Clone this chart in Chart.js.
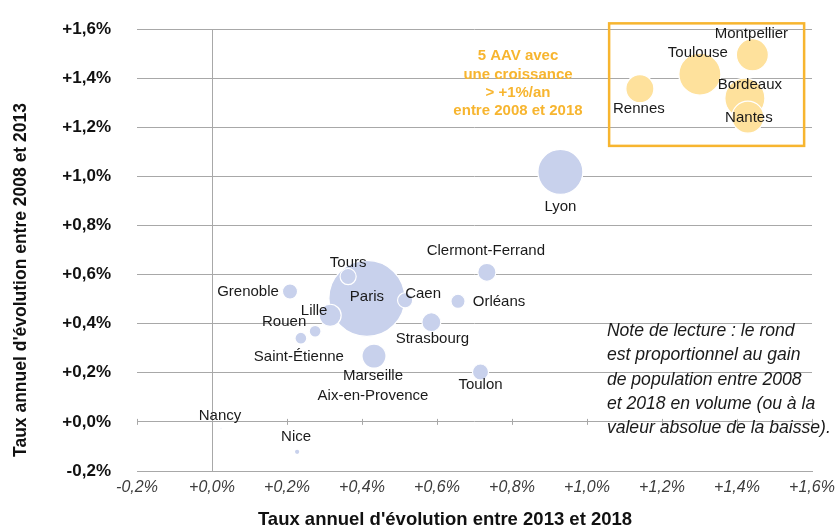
<!DOCTYPE html>
<html>
<head>
<meta charset="utf-8">
<script src="https://cdn.jsdelivr.net/npm/chart.js@4.4.1/dist/chart.umd.min.js"></script>
<style>
  html, body { margin: 0; padding: 0; background: #fff; }
  #wrap { width: 836px; height: 531px; }
</style>
</head>
<body>
<div id="wrap"><canvas id="chart" width="836" height="531"></canvas></div>
<script>
// Aires d'attraction des villes (AAV)
const cities = ['Paris', 'Lyon', 'Toulouse', 'Bordeaux', 'Montpellier', 'Nantes', 'Rennes',
  'Marseille\nAix-en-Provence', 'Lille', 'Strasbourg', 'Clermont-Ferrand', 'Tours', 'Toulon',
  'Grenoble', 'Caen', 'Orléans', 'Rouen', 'Saint-Étienne', 'Nice', 'Nancy'];
// taux annuel d'évolution 2013-2018 (%)
const rate2013_2018 = [0.413, 0.929, 1.301, 1.421, 1.441, 1.429, 1.141,
  0.432, 0.315, 0.585, 0.733, 0.363, 0.716,
  0.208, 0.515, 0.656, 0.275, 0.237, 0.227, 0.024];
// taux annuel d'évolution 2008-2013 (%)
const rate2008_2013 = [0.503, 1.018, 1.416, 1.318, 1.495, 1.241, 1.357,
  0.268, 0.434, 0.406, 0.609, 0.592, 0.203,
  0.531, 0.495, 0.491, 0.369, 0.341, -0.122, -0.028];
// gain de population 2008-2018 (milliers, valeur absolue)
const popGain = [580, 203, 177, 161, 103, 103, 79,
  58, 49, 36, 33, 26, 26,
  23, 23, 20, 14, 14, 3, 0.4];
// AAV avec une croissance > +1%/an entre 2008 et 2018
const fastGrowth = ['Toulouse', 'Bordeaux', 'Montpellier', 'Nantes', 'Rennes'];

const xTicks = [-0.2, 0, 0.2, 0.4, 0.6, 0.8, 1.0, 1.2, 1.4, 1.6];
const yTicks = [-0.2, 0, 0.2, 0.4, 0.6, 0.8, 1.0, 1.2, 1.4, 1.6];

const FONT = "'Liberation Sans', Arial, Helvetica, sans-serif";
const BLUE = '#c8d1ec';
const ORANGE = '#fee19c';
const GOLD = '#f7b52f';
const GRID = '#a8a8a8';

// label offsets (px) from bubble centre
const labelPos = {
  'Paris': [0, -2], 'Lyon': [0, 35], 'Toulouse': [-2, -21], 'Bordeaux': [5, -13],
  'Montpellier': [-1, -21], 'Nantes': [1, 1], 'Rennes': [-1, 20],
  'Marseille\nAix-en-Provence': [-1, 30], 'Lille': [-16, -4], 'Strasbourg': [1, 17],
  'Clermont-Ferrand': [-1, -21], 'Tours': [0, -14], 'Toulon': [0, 13],
  'Grenoble': [-42, 0], 'Caen': [18, -6], 'Orléans': [41, 1], 'Rouen': [-31, -9],
  'Saint-Étienne': [-2, 19], 'Nice': [-1, -15], 'Nancy': [-1, -13]
};

const fmt = v => (v < -1e-9 ? '-' : '+') + Math.abs(v).toFixed(1).replace('.', ',') + '%';

function buildPoints(fast) {
  const idx = cities.map((c, i) => i)
    .filter(i => fastGrowth.includes(cities[i]) === fast)
    .sort((a, b) => popGain[b] - popGain[a]);
  return idx.map(i => ({
    x: rate2013_2018[i],
    y: rate2008_2013[i],
    r: Math.max(1, Math.sqrt(popGain[i]) * 1.578),
    name: cities[i]
  }));
}

const decorPlugin = {
  id: 'decor',
  beforeDatasetsDraw(chart) {
    // small tick marks along the zero line
    const ctx = chart.ctx;
    const xs = chart.scales.x, ys = chart.scales.y;
    const y0 = ys.getPixelForValue(0);
    ctx.save();
    ctx.strokeStyle = GRID;
    ctx.lineWidth = 1;
    ctx.beginPath();
    xTicks.forEach(v => {
      const px = Math.round(xs.getPixelForValue(v)) + 0.5;
      ctx.moveTo(px, y0 - 3);
      ctx.lineTo(px, y0 + 3);
    });
    ctx.stroke();
    ctx.restore();
  },
  afterDatasetsDraw(chart) {
    const ctx = chart.ctx;
    const xs = chart.scales.x, ys = chart.scales.y;
    ctx.save();
    // city labels
    ctx.font = '15px ' + FONT;
    ctx.fillStyle = '#1a1a1a';
    ctx.textAlign = 'center';
    ctx.textBaseline = 'middle';
    chart.data.datasets.forEach((ds, di) => {
      const meta = chart.getDatasetMeta(di);
      ds.data.forEach((p, i) => {
        const el = meta.data[i];
        const off = labelPos[p.name] || [0, 0];
        const lines = p.name.split('\n');
        const lh = 20;
        lines.forEach((ln, k) => {
          ctx.fillText(ln, el.x + off[0], el.y + off[1] + (k - (lines.length - 1) / 2) * lh);
        });
      });
    });

    // box around the fast-growing AAV
    const bx0 = xs.getPixelForValue(1.059), bx1 = xs.getPixelForValue(1.579);
    const by0 = ys.getPixelForValue(1.623), by1 = ys.getPixelForValue(1.124);
    ctx.strokeStyle = GOLD;
    ctx.lineWidth = 2.5;
    ctx.strokeRect(bx0, by0, bx1 - bx0, by1 - by0);

    // annotation text
    ctx.fillStyle = GOLD;
    ctx.font = 'bold 15px ' + FONT;
    const ax = xs.getPixelForValue(0.816);
    const ay = ys.getPixelForValue(1.489);
    ['5 AAV avec', 'une croissance', '> +1%/an', 'entre 2008 et 2018'].forEach((t, k) => {
      ctx.fillText(t, ax, ay + k * 18.3);
    });

    // reading note
    ctx.fillStyle = '#1a1a1a';
    ctx.font = 'italic 17.6px ' + FONT;
    ctx.textAlign = 'left';
    const nx = xs.getPixelForValue(1.053);
    const ny = ys.getPixelForValue(0.369);
    ['Note de lecture : le rond', 'est proportionnel au gain', 'de population entre 2008',
     'et 2018 en volume (ou à la', 'valeur absolue de la baisse).'].forEach((t, k) => {
      ctx.fillText(t, nx, ny + k * 24.3);
    });

    // axis titles
    ctx.fillStyle = '#111';
    ctx.font = 'bold 18.5px ' + FONT;
    ctx.textAlign = 'center';
    ctx.fillText("Taux annuel d'évolution entre 2013 et 2018", 445, 520);
    ctx.translate(21, 280);
    ctx.rotate(-Math.PI / 2);
    ctx.font = 'bold 17.5px ' + FONT;
    ctx.fillText("Taux annuel d'évolution entre 2008 et 2013", 0, 0);
    ctx.restore();
  }
};

new Chart(document.getElementById('chart').getContext('2d'), {
  type: 'bubble',
  data: {
    datasets: [
      {
        data: buildPoints(false),
        backgroundColor: BLUE,
        borderColor: '#ffffff',
        borderWidth: 1.2
      },
      {
        data: buildPoints(true),
        backgroundColor: ORANGE,
        borderColor: '#ffffff',
        borderWidth: 1.2
      }
    ]
  },
  options: {
    responsive: false,
    animation: false,
    events: [],
    layout: { autoPadding: false, padding: { left: 0, right: 24, top: 29, bottom: 0 } },
    plugins: { legend: { display: false }, tooltip: { enabled: false } },
    scales: {
      x: {
        type: 'linear',
        min: xTicks[0],
        max: xTicks[xTicks.length - 1],
        afterBuildTicks: s => { s.ticks = xTicks.map(v => ({ value: v })); },
        afterFit: s => { s.height = 60; s.paddingLeft = 0; s.paddingRight = 0; },
        ticks: {
          padding: 7,
          color: '#3c3c3c',
          font: { family: FONT, size: 16, style: 'italic' },
          callback: v => fmt(v),
          maxRotation: 0
        },
        grid: {
          drawTicks: false,
          color: c => (c.tick && Math.abs(c.tick.value) < 1e-9 ? GRID : 'rgba(0,0,0,0)')
        },
        border: { display: true, color: GRID }
      },
      y: {
        type: 'linear',
        min: yTicks[0],
        max: yTicks[yTicks.length - 1],
        afterBuildTicks: s => { s.ticks = yTicks.map(v => ({ value: v })); },
        afterFit: s => { s.width = 137; s.paddingTop = 0; s.paddingBottom = 0; },
        ticks: {
          padding: 26,
          color: '#111',
          font: { family: FONT, size: 17, weight: 'bold' },
          callback: v => fmt(v)
        },
        grid: { drawTicks: false, color: GRID },
        border: { display: false }
      }
    }
  },
  plugins: [decorPlugin]
});
</script>
</body>
</html>
